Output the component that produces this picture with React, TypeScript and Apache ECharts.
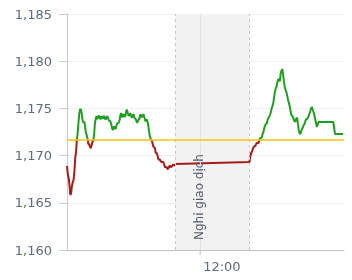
import React, { useEffect, useRef } from "react";
import * as echarts from "echarts";

// Sampling: one price per minute (time = minutes since midnight)
const morningStart = 558; // 09:18
const morningPrices: number[] = [
  1168.9, 1168.0, 1167.63, 1166.9, 1165.83, 1166.0, 1166.78, 1167.2, 1167.42, 1168.3,
  1169.75, 1170.4, 1171.6, 1172.4, 1173.56, 1174.5, 1174.94, 1174.85, 1174.41, 1173.7,
  1173.45, 1173.6, 1173.14, 1172.4, 1172.18, 1171.8, 1171.23, 1171.2, 1170.91, 1170.8,
  1171.12, 1171.5, 1171.55, 1172.3, 1173.45, 1173.9, 1174.2, 1173.85, 1174.09, 1174.25,
  1173.98, 1173.85, 1174.2, 1173.95, 1173.98, 1174.2, 1173.98, 1173.8, 1174.09, 1174.15,
  1173.98, 1173.7, 1173.67, 1173.55, 1173.24, 1172.85, 1172.71, 1173.05, 1173.03, 1172.8,
  1173.14, 1173.4, 1173.45, 1173.5, 1173.77, 1174.3, 1174.51, 1174.05, 1174.2, 1174.4,
  1174.09, 1174.2, 1174.72, 1174.85, 1174.51, 1174.2, 1174.3, 1174.5, 1174.2, 1174.0,
  1174.3, 1174.35, 1173.98, 1173.95, 1173.77, 1173.5, 1173.56, 1173.8, 1173.88, 1174.3,
  1174.3, 1174.05, 1174.2, 1174.4, 1174.09, 1173.75, 1173.67, 1173.85, 1173.56, 1173.1,
  1172.5, 1171.95, 1171.76, 1171.6, 1171.33, 1170.95, 1170.91, 1170.75, 1170.28, 1170.3,
  1170.06, 1169.65, 1169.53, 1169.6, 1169.43, 1169.3, 1169.32, 1169.35, 1169.11, 1168.8,
  1168.79, 1168.8, 1168.58, 1168.6, 1168.79, 1168.95, 1168.79, 1168.8, 1168.9, 1169.05,
  1169.0, 1168.95, 1169.11,
];
const afternoonStart = 780; // 13:00
const afternoonPrices: number[] = [
  1169.32, 1169.9, 1170.28, 1170.4, 1170.7, 1170.9, 1171.02, 1171.0, 1171.23, 1171.35,
  1171.33, 1171.3, 1171.65, 1171.85, 1171.87, 1171.95, 1172.29, 1172.5, 1172.92, 1173.2,
  1173.35, 1173.4, 1173.77, 1174.0, 1174.09, 1174.3, 1174.62, 1175.0, 1175.25, 1175.6,
  1176.21, 1176.8, 1177.16, 1177.3, 1177.8, 1178.1, 1178.01, 1177.9, 1178.75, 1179.0,
  1179.17, 1178.5, 1177.8, 1177.2, 1176.95, 1176.7, 1176.31, 1175.9, 1175.57, 1175.2,
  1174.72, 1174.3, 1174.2, 1174.1, 1173.77, 1173.6, 1173.67, 1173.95, 1173.98, 1173.3,
  1172.71, 1172.35, 1172.29, 1172.6, 1172.82, 1173.0, 1173.24, 1173.35, 1173.67, 1173.85,
  1173.88, 1174.0, 1174.2, 1174.45, 1174.72, 1175.0, 1175.15, 1174.85, 1174.62, 1174.25,
  1173.88, 1173.45, 1173.03, 1173.3, 1173.56, 1173.6, 1173.56,
];
// sparse trades at the end of the session
const tailTimes: number[] = [882, 884, 894];
const tailPrices: number[] = [1173.56, 1172.29, 1172.29];

const referencePrice = 1171.65;
const breakStart = 690; // 11:30
const breakEnd = 780; // 13:00
const tickTime = 720; // 12:00
const xMin = 558;
const xMax = 895;
const yMin = 1160;
const yMax = 1185;
const yStep = 5;
const breakLabel = "Nghỉ giao dịch";

const FONT = "DejaVu Sans";
const LABEL_COLOR = "#5f6a7a";
const UP = "#1f9d1f";
const DOWN = "#a51c1c";
const fmtTime = (m: number) =>
  `${String(Math.floor(m / 60)).padStart(2, "0")}:${String(m % 60).padStart(2, "0")}`;
const fmtNum = (v: number) => String(Math.round(v)).replace(/\B(?=(\d{3})+(?!\d))/g, ",");

const seriesData: number[][] = [
  ...morningPrices.map((v, i) => [morningStart + i, v]),
  ...afternoonPrices.map((v, i) => [afternoonStart + i, v]),
  ...tailPrices.map((v, i) => [tailTimes[i], v]),
];

export default function App() {
  const ref = useRef<HTMLDivElement>(null);
  useEffect(() => {
    if (!ref.current) return;
    const chart = echarts.init(ref.current, null, { renderer: "svg" });
    const option: any = {
      animation: false,
      textStyle: { fontFamily: FONT },
      grid: { left: 67, right: 8, top: 14, bottom: 30 },
      xAxis: {
        type: "value",
        min: xMin,
        max: xMax,
        axisLine: { show: true, lineStyle: { color: "#c0c0c0", width: 1 } },
        axisTick: { show: false },
        axisLabel: { show: false },
        splitLine: { show: false },
      },
      yAxis: {
        type: "value",
        min: yMin,
        max: yMax,
        interval: yStep,
        axisLine: { show: true, lineStyle: { color: "#cccccc" } },
        axisTick: { show: true, length: 8, lineStyle: { color: "#cccccc" } },
        axisLabel: {
          formatter: (v: number) => fmtNum(v),
          margin: 15,
          color: LABEL_COLOR,
          fontSize: 13,
          fontFamily: FONT,
        },
        splitLine: { show: true, lineStyle: { color: "#f0f0f0" } },
      },
      series: [
        {
          type: "line",
          data: seriesData,
          showSymbol: false,
          lineStyle: { width: 2, color: UP },
          z: 3,
        },
        {
          type: "line",
          data: [],
          z: 1,
          markArea: {
            silent: true,
            itemStyle: { color: "#f2f2f2" },
            data: [[{ xAxis: breakStart }, { xAxis: breakEnd }]],
          },
          markLine: {
            silent: true,
            symbol: ["none", "none"],
            label: { show: false },
            data: [
              { xAxis: breakStart, lineStyle: { color: "#c8c8c8", type: [3, 3], width: 1 } },
              { xAxis: breakEnd, lineStyle: { color: "#c8c8c8", type: [3, 3], width: 1 } },
              { xAxis: tickTime, lineStyle: { color: "#e2e2e2", type: "solid", width: 1 } },
              { yAxis: referencePrice, lineStyle: { color: "#f7c600", type: "solid", width: 1.5 } },
            ],
          },
        },
      ],
    };
    try {
      chart.setOption(option);
    } catch (e) {
      console.error("setOption1", e);
    }
    const p = chart.convertToPixel({ xAxisIndex: 0, yAxisIndex: 0 } as any, [tickTime, yMin]) as number[];
    const top = chart.convertToPixel({ yAxisIndex: 0 } as any, yMax) as number;
    const refY = chart.convertToPixel({ yAxisIndex: 0 } as any, referencePrice) as number;
    const bottom = p[1];
    const f = Math.min(1, Math.max(0, (refY - top) / (bottom - top)));
    const gradient = new echarts.graphic.LinearGradient(
      0,
      top,
      0,
      bottom,
      [
        { offset: 0, color: UP },
        { offset: f, color: UP },
        { offset: f, color: DOWN },
        { offset: 1, color: DOWN },
      ],
      true
    );
    chart.setOption({
      series: [{ lineStyle: { color: gradient } }, {}],
      graphic: [
        {
          type: "line",
          shape: { x1: p[0], y1: bottom, x2: p[0], y2: bottom + 5 },
          style: { stroke: "#c0c0c0", lineWidth: 1 },
        },
        {
          type: "text",
          x: p[0] + 3,
          y: bottom + 10,
          style: {
            text: fmtTime(tickTime),
            align: "left",
            verticalAlign: "top",
            fill: LABEL_COLOR,
            font: `13px ${FONT}`,
          },
        },
        {
          type: "text",
          x: p[0] - 1,
          y: bottom - 10,
          rotation: Math.PI / 2,
          z: 10,
          style: {
            text: breakLabel,
            align: "left",
            verticalAlign: "middle",
            fill: "#555b66",
            font: `12px ${FONT}`,
          },
        },
      ],
    });
    return () => chart.dispose();
  }, []);
  return (
    <div
      ref={ref}
      style={{ position: "fixed", left: 0, top: 0, width: 352, height: 280 }}
    />
  );
}
